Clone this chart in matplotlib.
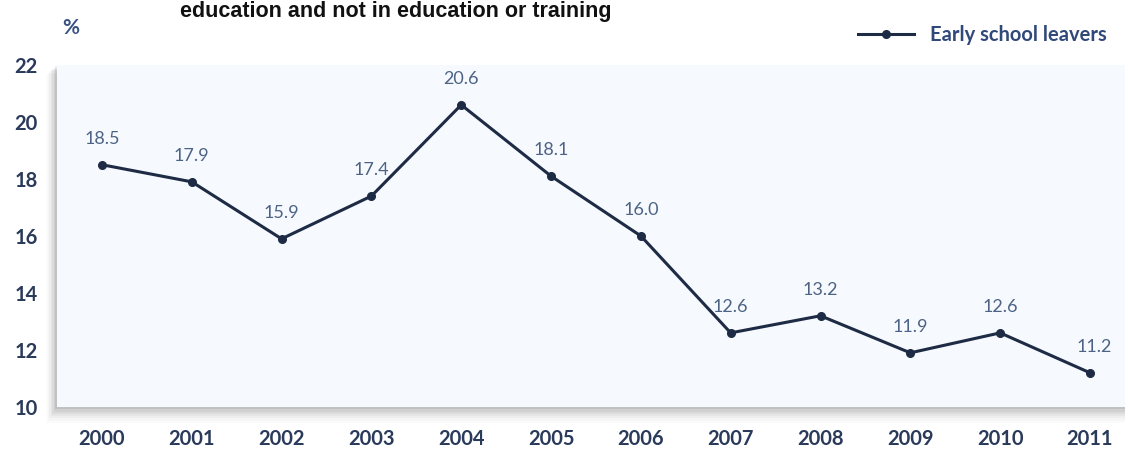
import matplotlib
matplotlib.use("Agg")
import matplotlib.pyplot as plt
from matplotlib.patches import Rectangle

years = [2000, 2001, 2002, 2003, 2004, 2005, 2006, 2007, 2008, 2009, 2010, 2011]
early_leavers = [18.5, 17.9, 15.9, 17.4, 20.6, 18.1, 16.0, 12.6, 13.2, 11.9, 12.6, 11.2]
value_labels = ["18.5", "17.9", "15.9", "17.4", "20.6", "18.1", "16.0", "12.6", "13.2", "11.9", "12.6", "11.2"]
y_ticks = [10, 12, 14, 16, 18, 20, 22]

plt.rcParams["font.family"] = ["Lato", "DejaVu Sans"]

fig = plt.figure(figsize=(11.25, 4.5), dpi=100)
ax = fig.add_axes([0.0507, 0.0956, 0.9493, 0.76])

# soft drop shadow around the plot box
for i, a in enumerate([0.07, 0.06, 0.05, 0.04, 0.03, 0.02, 0.015]):
    off = (i + 1) * 0.0028
    fig.patches.append(Rectangle((0.0507 - off * 0.5, 0.0956 - off * 1.8), 0.9493 + off, 0.76 + off * 0.8,
                                 transform=fig.transFigure, facecolor="#1a1a1a", alpha=a,
                                 edgecolor="none", zorder=0))

ax.set_facecolor("#f6f9fd")
ax.set_zorder(2)
for s in ax.spines.values():
    s.set_visible(False)

line_color = "#1e2b45"
ax.plot(years, early_leavers, color=line_color, lw=2.2, marker="o", markersize=5.5,
        label="Early school leavers", zorder=3)

for x, y, t in zip(years, early_leavers, value_labels):
    dx = 0
    if x == 2011:
        dx = 3
    ax.annotate(t, (x, y), xytext=(dx, 13), textcoords="offset points", ha="center",
                va="bottom", fontsize=13, color="#4d6385")

ax.set_xlim(1999.5, 2011.39)
ax.set_ylim(10, 22)
ax.set_xticks(years)
ax.set_yticks(y_ticks)
ax.tick_params(length=0)
ax.tick_params(axis="x", pad=16)
ax.tick_params(axis="y", pad=14)
for lbl in ax.get_xticklabels() + ax.get_yticklabels():
    lbl.set_fontweight("bold")
    lbl.set_fontsize(14.5)
    lbl.set_color("#2a3a5a")

fig.text(0.055, 0.925, "%", fontsize=15, fontweight="bold", color="#3a5282")
fig.text(0.352, 0.962, "education and not in education or training", fontsize=15.5,
         fontweight="bold", color="#111111", ha="center", family=["Liberation Sans", "DejaVu Sans"])

leg = fig.legend(loc="upper right", bbox_to_anchor=(1.0, 0.985), frameon=False,
                 fontsize=14.5, handlelength=2.8, handletextpad=0.8)
for t in leg.get_texts():
    t.set_color("#30497a")
    t.set_fontweight("bold")

fig.savefig("out.png", dpi=100, facecolor="white")
